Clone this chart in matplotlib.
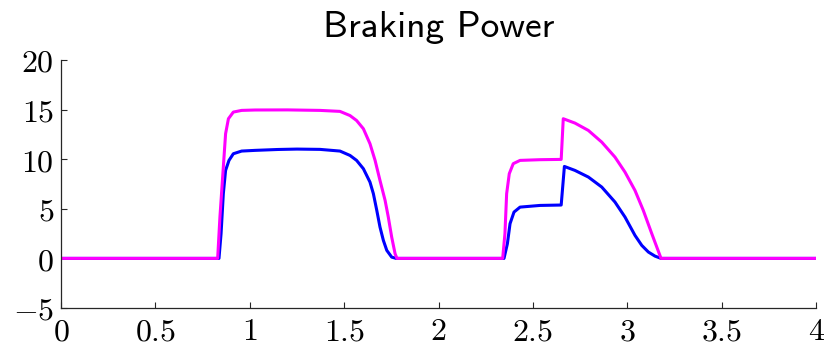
import matplotlib
matplotlib.use("Agg")
import matplotlib.pyplot as plt

plt.rcParams["mathtext.fontset"] = "cm"
plt.rcParams["axes.formatter.use_mathtext"] = True

# Time axis (s) and braking power of the two channels
t_magenta = [0.0, 0.830, 0.842, 0.860, 0.872, 0.887, 0.913, 0.957, 1.028, 1.20,
             1.372, 1.478, 1.531, 1.566, 1.602, 1.637, 1.664, 1.690, 1.717,
             1.734, 1.752, 1.770, 1.780,
             2.340, 2.352, 2.361, 2.375, 2.396, 2.432, 2.538, 2.650,
             2.661, 2.723, 2.794, 2.865, 2.935, 2.988, 3.041, 3.085, 3.130,
             3.179, 4.0]
p_magenta = [0.0, 0.0, 4.17, 9.2, 12.57, 14.08, 14.75, 14.92, 14.96, 14.97,
             14.92, 14.82, 14.4, 13.9, 13.07, 11.56, 9.88, 7.86, 5.85,
             4.17, 2.15, 0.47, 0.0,
             0.0, 2.49, 6.52, 8.54, 9.55, 9.88, 9.95, 9.98,
             14.08, 13.64, 12.9, 11.72, 10.21, 8.70, 6.85, 4.84, 2.49,
             0.0, 0.0]

t_blue = [0.0, 0.837, 0.848, 0.860, 0.872, 0.890, 0.913, 0.957, 1.028, 1.15,
          1.25, 1.372, 1.478, 1.531, 1.566, 1.602, 1.637, 1.655, 1.673, 1.690,
          1.708, 1.726, 1.752, 1.776,
          2.347, 2.365, 2.379, 2.400, 2.432, 2.538, 2.650,
          2.667, 2.723, 2.794, 2.865, 2.935, 2.988, 3.041, 3.077, 3.112,
          3.147, 3.179, 4.0]
p_blue = [0.0, 0.0, 2.49, 6.52, 8.87, 9.88, 10.55, 10.82, 10.89, 10.98,
          11.02, 10.99, 10.82, 10.38, 9.88, 9.04, 7.69, 6.52, 4.84, 3.16,
          1.81, 0.81, 0.13, 0.0,
          0.0, 1.48, 3.5, 4.67, 5.17, 5.34, 5.38,
          9.27, 8.87, 8.2, 7.19, 5.68, 4.17, 2.32, 1.31, 0.64,
          0.23, 0.0, 0.0]

x_ticks = [0, 0.5, 1, 1.5, 2, 2.5, 3, 3.5, 4]
y_ticks = [-5, 0, 5, 10, 15, 20]

fig = plt.figure(figsize=(8.24, 3.46), dpi=100)
ax = fig.add_axes([61 / 824, 38 / 346, 755 / 824, 248 / 346])

ax.plot(t_blue, p_blue, color="#0000ff", lw=2.2,
        solid_joinstyle="round", solid_capstyle="round")
ax.plot(t_magenta, p_magenta, color="#ff00ff", lw=2.2,
        solid_joinstyle="round", solid_capstyle="round")

ax.set_xlim(0, 4)
ax.set_ylim(-5, 20)
ax.set_xticks(x_ticks)
ax.set_yticks(y_ticks)
ax.set_xticklabels([f"${v:g}$" for v in x_ticks])
ax.set_yticklabels([f"${v:g}$" for v in y_ticks])

for side in ("top", "right"):
    ax.spines[side].set_visible(False)
for side in ("left", "bottom"):
    ax.spines[side].set_color("#262626")
    ax.spines[side].set_linewidth(0.9)

ax.tick_params(direction="in", length=4, width=0.8, color="#262626",
               labelsize=23)
ax.tick_params(axis="y", pad=5)
ax.tick_params(axis="x", pad=6)
ax.set_title("Braking Power", fontname="cmss10", fontsize=27, pad=16.5)

fig.savefig("out.png", dpi=100)
